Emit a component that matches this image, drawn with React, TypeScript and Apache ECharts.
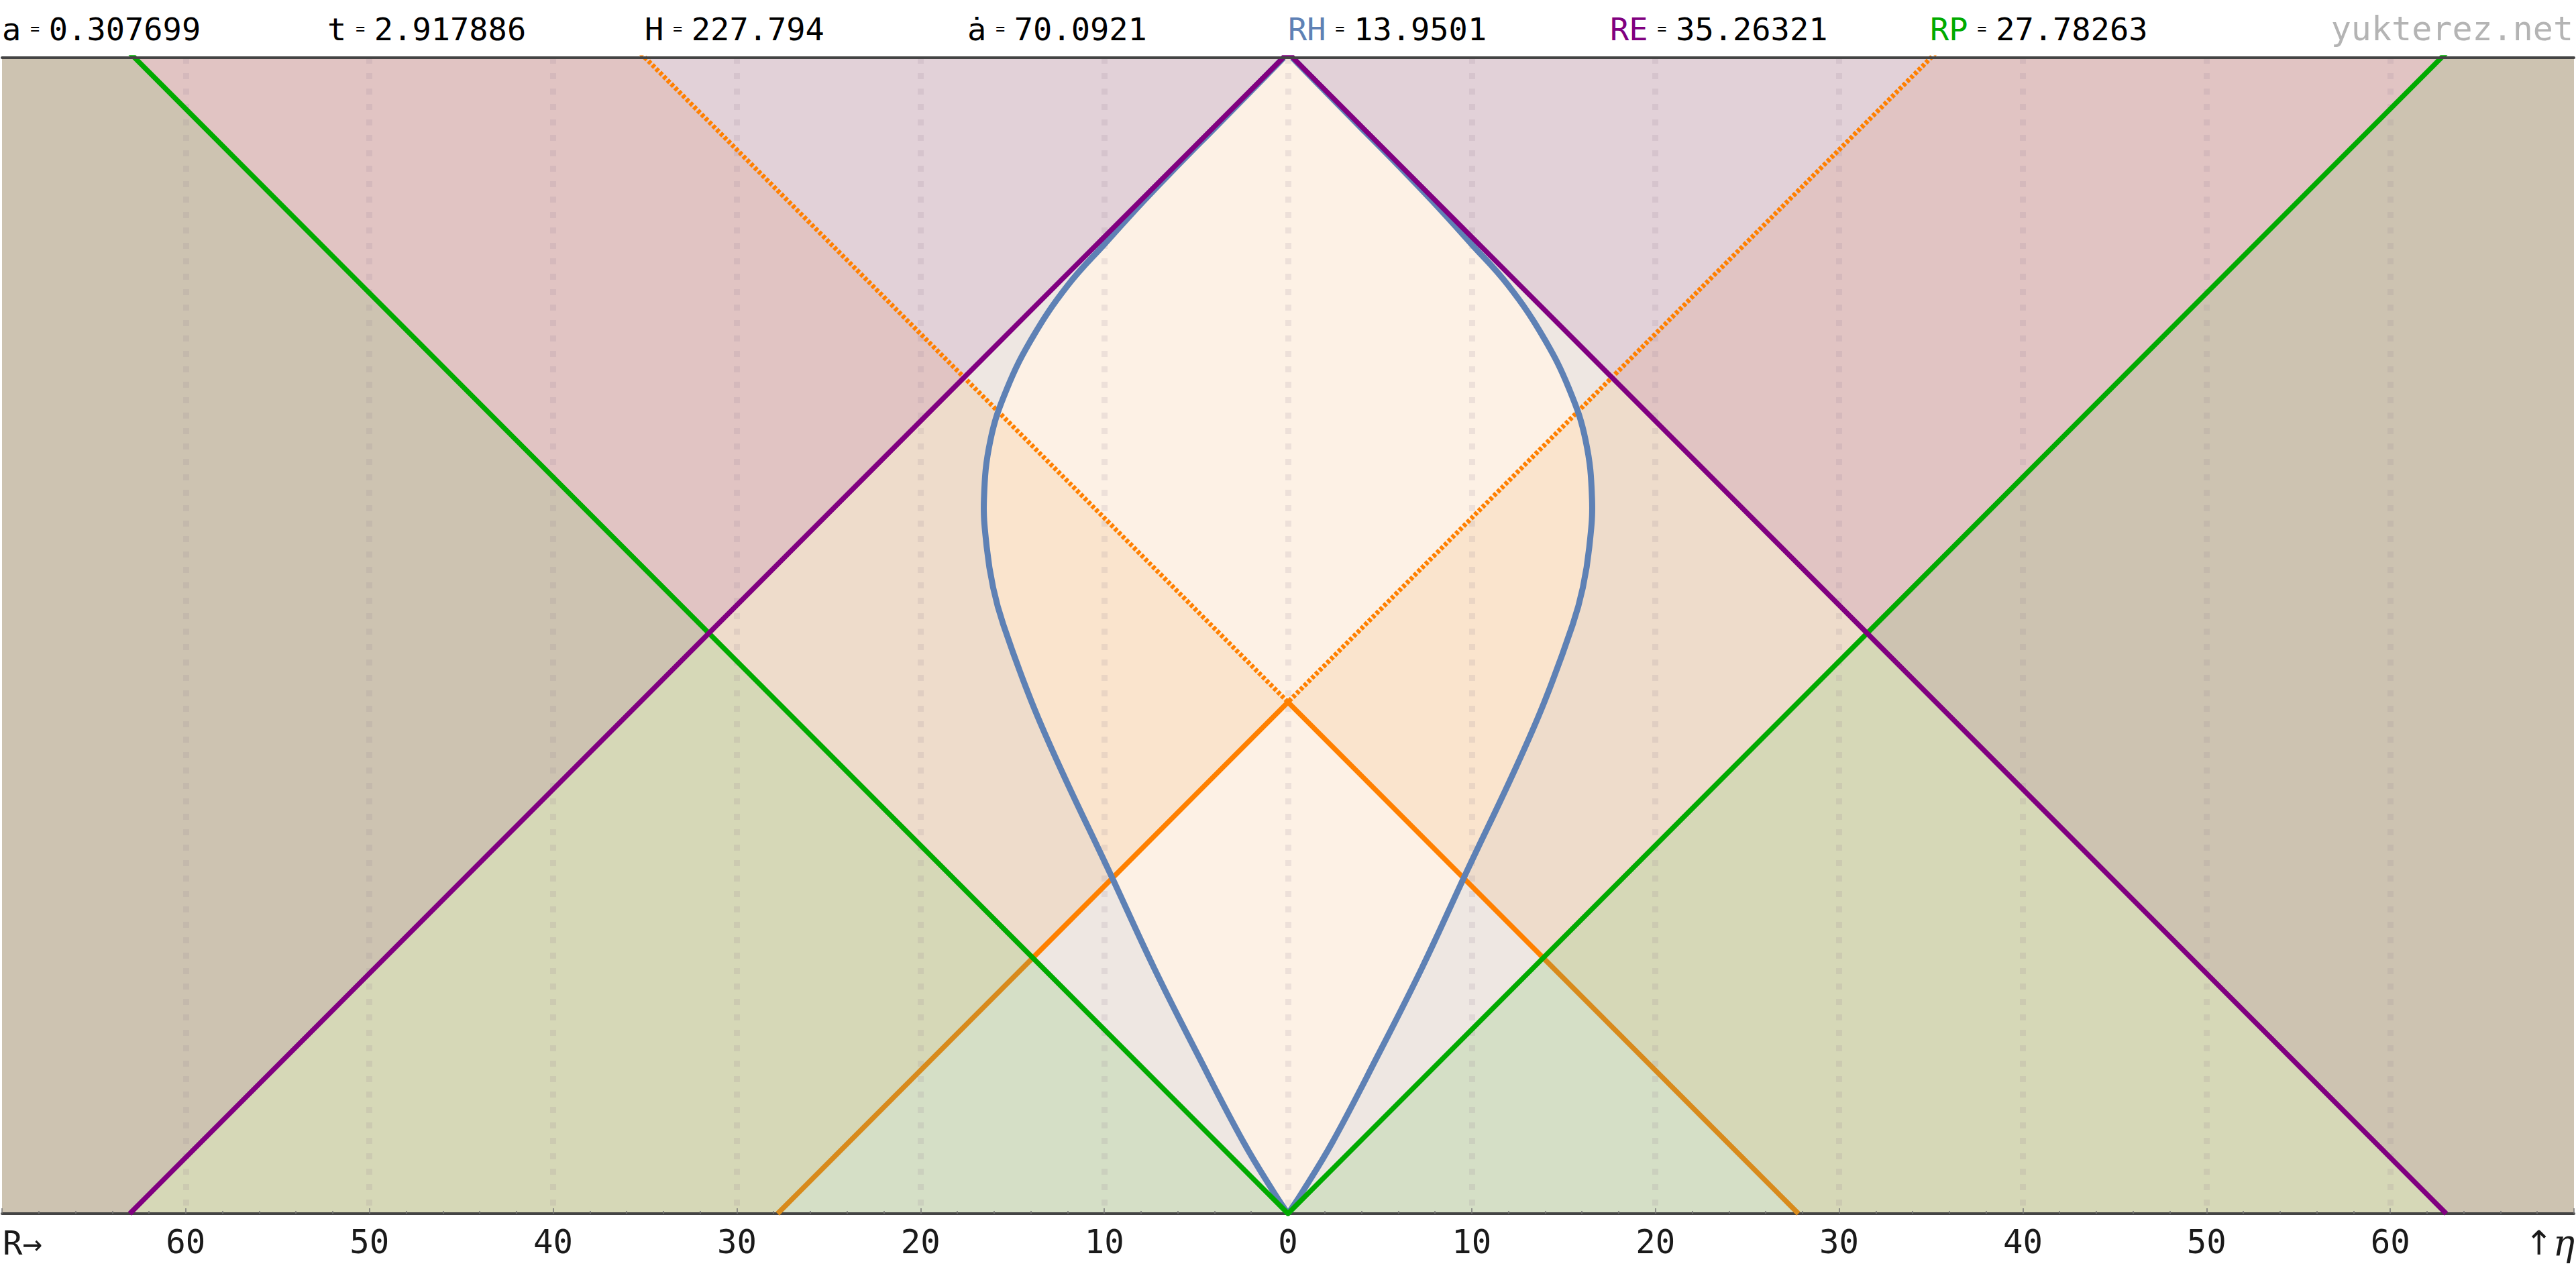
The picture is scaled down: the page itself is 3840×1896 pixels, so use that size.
import React, { useEffect, useRef } from 'react';
import * as echarts from 'echarts';

// ---------- header values ----------
const headerLabels = ['a', 't', 'H', 'ȧ', 'RH', 'RE', 'RP'];
const headerValues = ['0.307699', '2.917886', '227.794', '70.0921', '13.9501', '35.26321', '27.78263'];
const watermark = 'yukterez.net';

// ---------- horizons (comoving distance, conformal time) ----------
const RE = 35.26321; // event horizon
const RP = 27.78263; // particle horizon = conformal time now
const etaNow = RP;
const etaEnd = RP + RE;

// Hubble sphere (blue curve): conformal time and comoving radius
const hubbleEta = [0, 1.09, 3.9, 8.53, 13.34, 18.56, 24.0, 27.78, 32.0, 34.0, 36.2, 38.8, 42.0, 44.8, 47.6, 50.4, 52.7, 55.0, 57.0, 59.0, 61.0, 62.78];
const hubbleR = [0, 0.73, 2.43, 4.86, 7.29, 9.72, 12.3, 13.95, 15.5, 16.05, 16.4, 16.55, 16.2, 15.3, 13.9, 12.0, 9.95, 7.85, 5.93, 3.95, 1.98, 0.24];

// axes
const xMin = -70;
const xMax = 70;
const xStep = 10;
const etaTop = 62.78;

// ---------- layout / style ----------
const W = 3840;
const H = 1896;
const MONO = "'DejaVu Sans Mono', 'Liberation Mono', monospace";
const headerX = [3, 488, 961, 1442, 1920, 2400, 2877];
const headerColors = ['#000', '#000', '#000', '#000', '#5e81b5', '#800080', '#00aa00'];

export default function App() {
  const ref = useRef<HTMLDivElement>(null);

  useEffect(() => {
    document.body.style.margin = '0';
    if (!ref.current) return;
    const chart = echarts.init(ref.current, null, { renderer: 'svg', width: W, height: H });

    const E = etaEnd;
    const N = etaNow;
    const big = 80;

    const hubbleRight = hubbleEta.map((e, i) => [hubbleR[i], e]);
    const hubbleLeft = hubbleEta.map((e, i) => [-hubbleR[i], e]);
    const hubblePoly = [...hubbleRight, ...hubbleLeft.slice(1).reverse()];

    const fillShapes: number[][][] = [
      [[-E, 0], [E, 0], [0, E]], // inside event-horizon cone
      [[-N, 0], [N, 0], [0, N]], // past light cone
      [[0, 0], [big, big], [-big, big]], // particle-horizon cone
      [[0, N], [big, N + big], [-big, N + big]], // future light cone
      [[0, 0], [E / 2, E / 2], [0, E], [-E / 2, E / 2]], // causal diamond
      hubblePoly, // Hubble sphere
      [[-N / 2, N / 2], [0, N], [-(E - N) / 2, (E + N) / 2], [-E / 2, E / 2]],
      [[N / 2, N / 2], [0, N], [(E - N) / 2, (E + N) / 2], [E / 2, E / 2]],
    ];
    const fillColors = [
      '#d6d8b7',
      '#d5dfc6',
      '#e1c4c3',
      '#e2d1d8',
      '#eee7e2',
      '#fdf1e5',
      'rgba(240,174,100,0.18)',
      'rgba(240,174,100,0.18)',
    ];
    const hubbleIdx = 5;
    const SMOOTH = 0.4;

    const lineSeries = (name: string, data: number[][], color: string, width: number, z: number, type: any = 'solid') => ({
      name,
      type: 'line',
      data,
      symbol: 'none',
      clip: true,
      z,
      silent: true,
      lineStyle: { color, width, type, cap: 'butt', join: 'miter' },
    });

    const option: any = {
      animation: false,
      backgroundColor: '#ffffff',
      grid: { left: 0, right: 0, top: 86, bottom: 87, show: true, backgroundColor: '#cdc3b1', borderWidth: 0 },
      xAxis: [
        {
          type: 'value',
          min: xMin,
          max: xMax,
          interval: xStep,
          position: 'bottom',
          z: 2,
          axisLine: { show: true, onZero: false, lineStyle: { color: '#444', width: 4 } },
          axisTick: { show: true, inside: true, length: 8, lineStyle: { color: '#777', width: 1.5 } },
          minorTick: { show: true, splitNumber: 5, length: 4, lineStyle: { color: '#777', width: 1.5 } },
          axisLabel: {
            fontFamily: MONO,
            fontSize: 49,
            color: '#1a1a1a',
            margin: 18,
            formatter: (v: number) => (Math.abs(v) >= xMax ? '' : String(Math.abs(v))),
          },
          splitLine: {
            show: true,
            showMinLine: false,
            showMaxLine: false,
            lineStyle: { color: 'rgba(150,130,150,0.15)', width: 9, type: [9, 14] },
          },
        },
        {
          type: 'value',
          min: xMin,
          max: xMax,
          position: 'top',
          z: 6,
          axisLine: { show: true, onZero: false, lineStyle: { color: '#444', width: 4 } },
          axisTick: { show: false },
          axisLabel: { show: false },
          splitLine: { show: false },
        },
      ],
      yAxis: { type: 'value', min: 0, max: etaTop, show: false },
      series: [
        {
          type: 'custom',
          z: 1,
          clip: true,
          silent: true,
          data: fillShapes.map(() => [0, 0]),
          renderItem: (params: any, api: any) => {
            const i = params.dataIndex;
            return {
              type: 'polygon',
              z2: i,
              shape: {
                points: fillShapes[i].map((p) => api.coord(p)),
                smooth: i === hubbleIdx ? SMOOTH : 0,
              },
              style: { fill: fillColors[i] },
            };
          },
        },
        lineSeries('past cone outer L', [[-N, 0], [-N / 2, N / 2]], '#d88a1c', 7.5, 3),
        lineSeries('past cone outer R', [[N, 0], [N / 2, N / 2]], '#d88a1c', 7.5, 3),
        lineSeries('past cone', [[-N / 2, N / 2], [0, N], [N / 2, N / 2]], '#ff8000', 7.5, 3),
        lineSeries('future cone', [[-(big), N + big], [0, N], [big, N + big]], '#ff8000', 7, 3, [5, 3]),
        {
          type: 'custom',
          z: 4,
          clip: true,
          silent: true,
          data: [[0, 0], [0, 0]],
          renderItem: (params: any, api: any) => {
            const pts = params.dataIndex === 0 ? hubbleRight : hubbleLeft;
            return {
              type: 'polyline',
              shape: { points: pts.map((p) => api.coord(p)), smooth: SMOOTH },
              style: { stroke: '#5e81b5', lineWidth: 9, fill: 'none' },
            };
          },
        },
        lineSeries('particle horizon', [[-big, big], [0, 0], [big, big]], '#00aa00', 7.5, 5),
        lineSeries('event horizon', [[-E, 0], [0, E], [E, 0]], '#800080', 7.5, 5),
      ],
      graphic: [
        ...headerLabels.map((lbl, i) => ({
          type: 'text',
          x: headerX[i],
          y: 43,
          z: 10,
          style: {
            text: `{l|${lbl}}{e| = }{v|${headerValues[i]}}`,
            align: 'left',
            verticalAlign: 'middle',
            rich: {
              l: { fontFamily: MONO, fontSize: 47, fill: headerColors[i], color: headerColors[i] },
              e: { fontFamily: MONO, fontSize: 23, fill: '#000', color: '#000' },
              v: { fontFamily: MONO, fontSize: 47, fill: '#000', color: '#000' },
            },
          },
        })),
        {
          type: 'text',
          x: 3836,
          y: 43,
          z: 10,
          style: { text: watermark, align: 'right', verticalAlign: 'middle', fontFamily: MONO, fontSize: 50, fill: '#b4b4b4' },
        },
        {
          type: 'text',
          x: 4,
          y: 1853,
          z: 10,
          style: { text: 'R→', align: 'left', verticalAlign: 'middle', fontFamily: MONO, fontSize: 49, fill: '#1a1a1a' },
        },
        {
          type: 'text',
          x: 3838,
          y: 1853,
          z: 10,
          style: {
            text: '{a|↑}{b|η}',
            align: 'right',
            verticalAlign: 'middle',
            rich: {
              a: { fontFamily: "'DejaVu Sans', sans-serif", fontSize: 50, fill: '#1a1a1a', color: '#1a1a1a' },
              b: { fontFamily: "'DejaVu Serif', serif", fontStyle: 'italic', fontSize: 54, fill: '#1a1a1a', color: '#1a1a1a' },
            },
          },
        },
      ],
    };

    chart.setOption(option);
    return () => chart.dispose();
  }, []);

  return <div ref={ref} style={{ width: W, height: H }} />;
}
